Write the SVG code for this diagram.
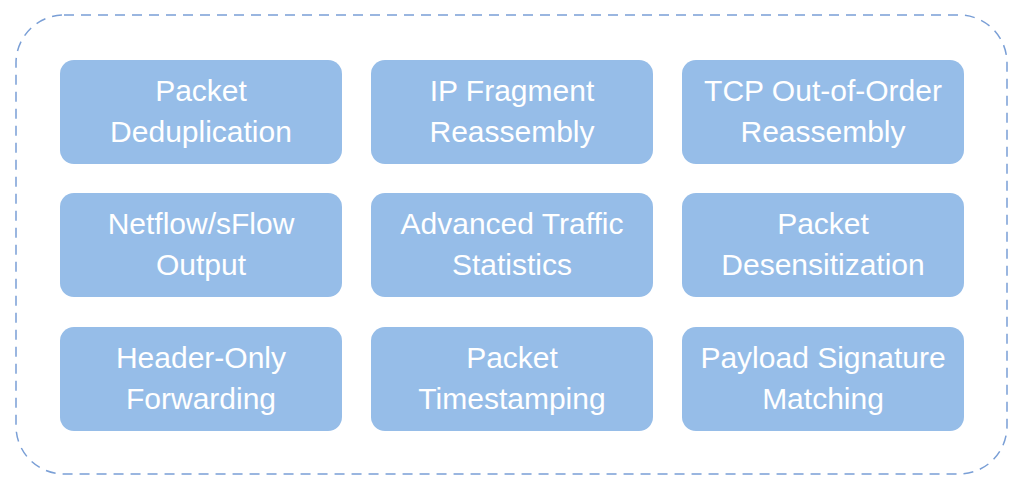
<svg xmlns="http://www.w3.org/2000/svg" width="1024" height="492" viewBox="0 0 1024 492">
<style>
.b{fill:#96bde8}
.t{font-family:"Liberation Sans",Arial,sans-serif;font-size:30px;fill:#fff;text-anchor:middle}
</style>
<rect width="1024" height="492" fill="#fff"/>
<rect x="16" y="15" width="991" height="459" rx="48" fill="none" stroke="#7a9fd6" stroke-width="1.5" stroke-dasharray="10,7"/>
<g id="n1"><rect class="b" x="60" y="60" width="282" height="104" rx="14"/><text class="t" x="201" y="101">Packet</text><text class="t" x="201" y="142">Deduplication</text></g>
<g id="n2"><rect class="b" x="371" y="60" width="282" height="104" rx="14"/><text class="t" x="512" y="101">IP Fragment</text><text class="t" x="512" y="142">Reassembly</text></g>
<g id="n3"><rect class="b" x="682" y="60" width="282" height="104" rx="14"/><text class="t" x="823" y="101">TCP Out-of-Order</text><text class="t" x="823" y="142">Reassembly</text></g>
<g id="n4"><rect class="b" x="60" y="193" width="282" height="104" rx="14"/><text class="t" x="201" y="234">Netflow/sFlow</text><text class="t" x="201" y="275">Output</text></g>
<g id="n5"><rect class="b" x="371" y="193" width="282" height="104" rx="14"/><text class="t" x="512" y="234">Advanced Traffic</text><text class="t" x="512" y="275">Statistics</text></g>
<g id="n6"><rect class="b" x="682" y="193" width="282" height="104" rx="14"/><text class="t" x="823" y="234">Packet</text><text class="t" x="823" y="275">Desensitization</text></g>
<g id="n7"><rect class="b" x="60" y="327" width="282" height="104" rx="14"/><text class="t" x="201" y="368">Header-Only</text><text class="t" x="201" y="409">Forwarding</text></g>
<g id="n8"><rect class="b" x="371" y="327" width="282" height="104" rx="14"/><text class="t" x="512" y="368">Packet</text><text class="t" x="512" y="409">Timestamping</text></g>
<g id="n9"><rect class="b" x="682" y="327" width="282" height="104" rx="14"/><text class="t" x="823" y="368">Payload Signature</text><text class="t" x="823" y="409">Matching</text></g>
<g id="connectors"/>
</svg>
